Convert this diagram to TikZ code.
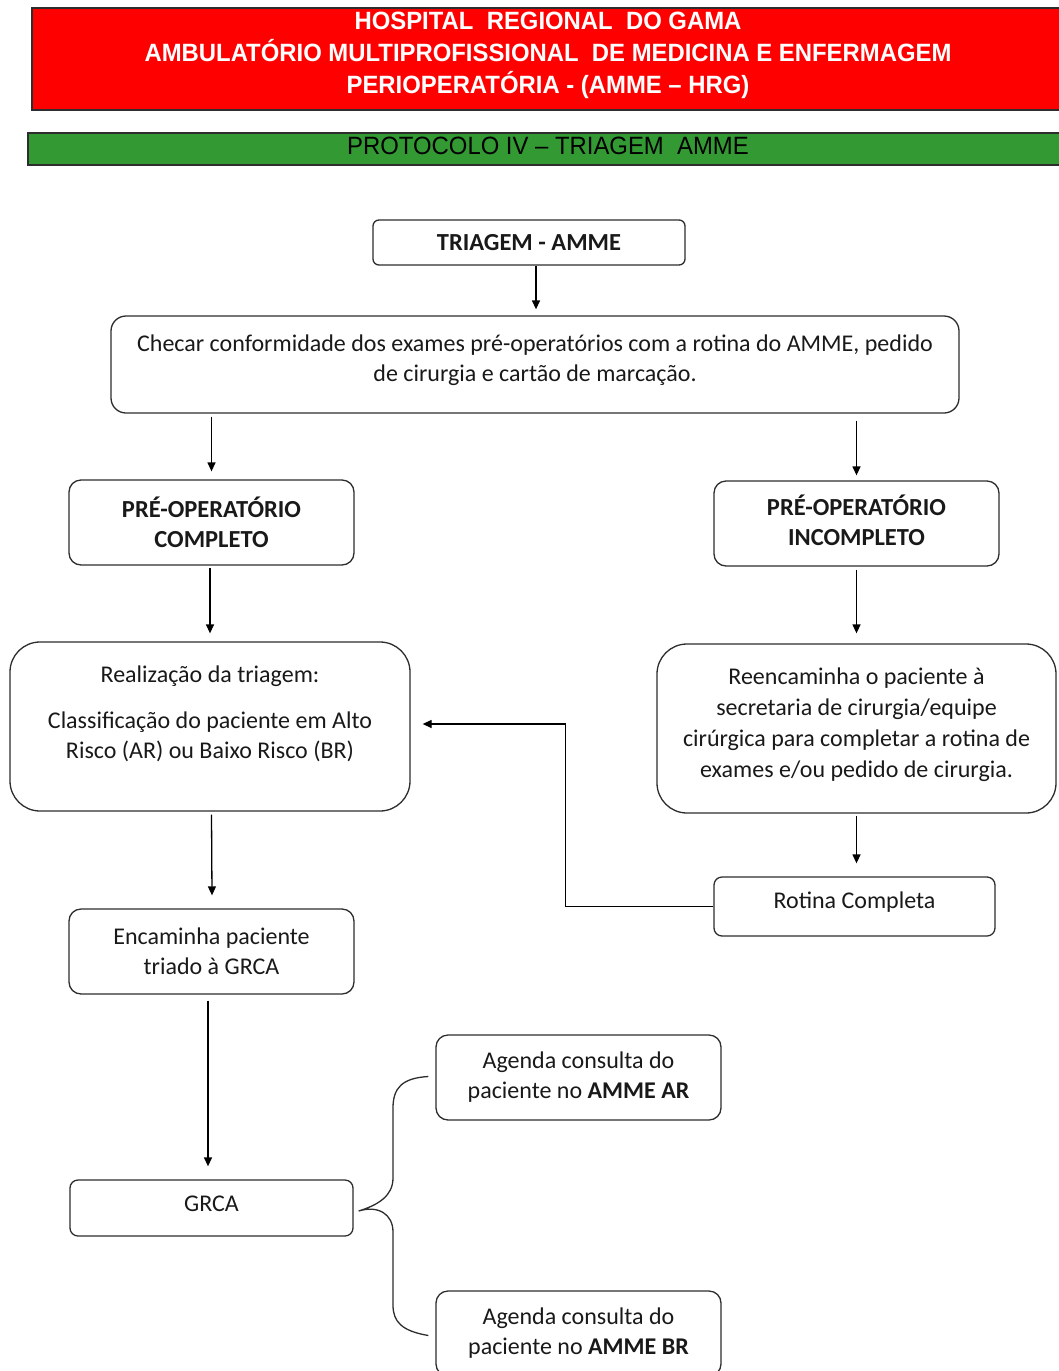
\documentclass[tikz,border=0pt]{standalone}
\usepackage{fontspec}
\setmainfont{Carlito}
\newfontfamily\narrowfont[FakeStretch=0.955]{Liberation Sans}
\usetikzlibrary{arrows.meta}
\definecolor{hdrred}{RGB}{255,0,0}
\definecolor{hdrgreen}{RGB}{51,153,51}
\definecolor{edge}{RGB}{45,45,45}
\begin{document}
\begin{tikzpicture}[x=1pt,y=-1pt,
  box/.style={draw=edge, line width=1.3pt, align=center, inner sep=0pt, text=black!90,
    font=\fontsize{24}{30}\selectfont},
  bbox/.style={box, font=\fontsize{24.5}{30}\selectfont\bfseries},
  arr/.style={-{Triangle[length=9pt,width=8pt]}, line width=1.3pt, draw=black},
  band/.style={draw=edge, line width=1.6pt, inner sep=0pt, align=center}]
\useasboundingbox (0,0) rectangle (1058,1371);

% header bands
\node[band, fill=hdrred, text=white, minimum width=1032, minimum height=102,
  font=\narrowfont\bfseries\fontsize{25}{32}\selectfont] (hdr) at (548,59)
  {HOSPITAL\ \ REGIONAL\ \ DO GAMA\\AMBULATÓRIO MULTIPROFISSIONAL\ \ DE MEDICINA E ENFERMAGEM\\PERIOPERATÓRIA - (AMME – HRG)\\[-20pt]};
\node[band, fill=hdrgreen, text=black, minimum width=1040, minimum height=32,
  font=\narrowfont\fontsize{25}{28}\selectfont] (prot) at (548,149)
  {PROTOCOLO IV – TRIAGEM\ \ AMME\\[-22pt]};

% boxes
\node[bbox, rounded corners=6pt, minimum width=312, minimum height=45] (triagem) at (529,242.5) {TRIAGEM - AMME};
\node[box, rounded corners=15pt, minimum width=848, minimum height=97] (checar) at (535,364.5)
  {Checar conformidade dos exames pré-operatórios com a rotina do AMME, pedido\\de cirurgia e cartão de marcação.\\[-18pt]};
\node[bbox, rounded corners=12pt, minimum width=285, minimum height=85] (comp) at (211.5,522.5) {PRÉ-OPERATÓRIO\\COMPLETO};
\node[bbox, rounded corners=12pt, minimum width=285, minimum height=85] (incomp) at (856.5,523.5) {PRÉ-OPERATÓRIO\\INCOMPLETO\\[-24pt]};
\node[box, rounded corners=30pt, minimum width=400, minimum height=169] (real) at (210,726.5)
  {Realização da triagem:\\[16pt]Classificação do paciente em Alto\\Risco (AR) ou Baixo Risco (BR)\\[-2pt]};
\node[box, rounded corners=30pt, minimum width=399, minimum height=169,
  font=\fontsize{24}{31}\selectfont] (reenc) at (856.5,728.5)
  {Reencaminha o paciente à\\secretaria de cirurgia/equipe\\cirúrgica para completar a rotina de\\exames e/ou pedido de cirurgia.\\[-20pt]};
\node[box, rounded corners=8pt, minimum width=281, minimum height=59] (rotina) at (854.5,906.5) {Rotina Completa\\[-18pt]};
\node[box, rounded corners=12pt, minimum width=285, minimum height=85] (enc) at (211.5,951.5) {Encaminha paciente\\triado à GRCA};
\node[box, rounded corners=8pt, minimum width=283, minimum height=56] (grca) at (211.5,1208) {GRCA\\[-22pt]};
\node[box, rounded corners=12pt, minimum width=285, minimum height=85] (ar) at (578.5,1077.5) {Agenda consulta do\\paciente no \textbf{AMME AR}};
\node[box, rounded corners=12pt, minimum width=285, minimum height=85] (br) at (578.5,1333.5) {Agenda consulta do\\paciente no \textbf{AMME BR}};

% connectors
\draw[arr] ([xshift=7pt]triagem.south) -- ([xshift=7pt,yshift=6pt]triagem.south |- checar.north);
\draw[arr] ([yshift=-3pt]comp.north |- checar.south) -- ([yshift=8pt]comp.north);
\draw[arr] ([yshift=-7pt]incomp.north |- checar.south) -- ([yshift=5pt]incomp.north);
\draw[arr] ([xshift=-1.5pt,yshift=-2pt]comp.south) -- ([yshift=8pt]real.north);
\draw[arr] ([yshift=-3pt]incomp.south) -- ([yshift=10pt]reenc.north);
\draw[arr] ([yshift=-2pt]reenc.south) -- ([yshift=13pt]rotina.north -| reenc.south);
\draw[arr] (rotina.west) -- ++(-148,0) |- ([xshift=12pt,yshift=2.5pt]real.east);
\draw[arr] ([xshift=1.5pt,yshift=-3pt]real.south) -- ([xshift=0.5pt,yshift=13pt]enc.north);
\draw[arr] ([xshift=-3.5pt,yshift=-6pt]enc.south) -- ([xshift=-3.5pt,yshift=13pt]grca.north);

% brace
\coordinate (bA) at ([xshift=-7pt,yshift=1pt]ar.west);
\coordinate (bB) at ([xshift=-7pt,yshift=-2pt]br.west);
\coordinate (bT) at ([xshift=5pt,yshift=-3pt]grca.east);
\draw[line width=1.3pt, draw=edge]
  (bA) .. controls (402,1078) and (393,1088) .. (393,1108)
  -- (393,1178) .. controls (393,1196) and (378,1205) .. (bT)
  .. controls (378,1205) and (393,1214) .. (393,1232)
  -- (393,1305) .. controls (393,1322) and (402,1331) .. (bB);
\end{tikzpicture}
\end{document}
